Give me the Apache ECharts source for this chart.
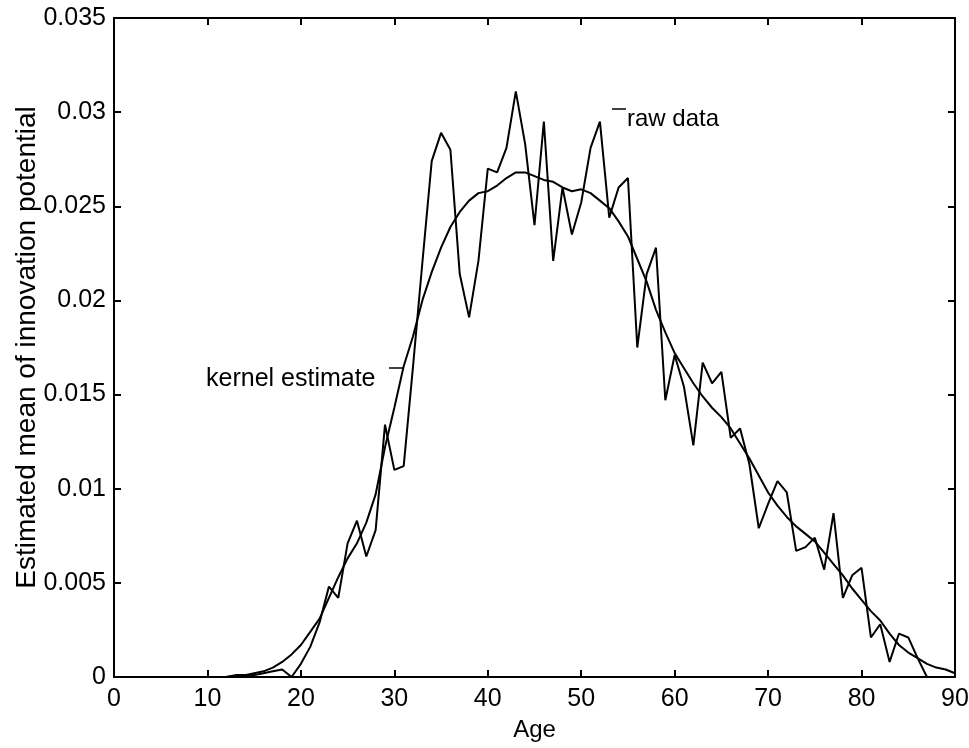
<!DOCTYPE html>
<html>
<head>
<meta charset="utf-8">
<title>Innovation potential by age</title>
<script src="https://cdn.jsdelivr.net/npm/echarts@6/dist/echarts.min.js"></script>
<style>
  html, body { margin: 0; padding: 0; background: #fff; }
</style>
</head>
<body>
<div id="main" style="width: 969px;height:748px;"></div>
<script type="text/javascript">
// ages of the raw observations
var rawAges = [12,13,14,15,16,17,18,19,20,21,22,23,24,25,26,27,28,29,30,31,32,33,34,35,36,37,38,39,40,
  41,42,43,44,45,46,47,48,49,50,51,52,53,54,55,56,57,58,59,60,61,62,63,64,65,66,67,68,69,70,
  71,72,73,74,75,76,77,78,79,80,81,82,83,84,85,86,87];
// raw data
var rawValues = [0,0.0001,0.0001,0.0001,0.0002,0.0003,0.0004,0,0.0007,0.0016,0.0029,0.0048,0.0042,0.0071,0.0083,0.0064,0.0078,0.0134,0.0110,0.0112,
  0.0165,0.0220,0.0274,0.0289,0.0280,0.0214,0.0191,0.0221,0.0270,0.0268,0.0281,0.0311,0.0283,0.0240,0.0295,0.0221,0.0260,0.0235,0.0252,0.0281,
  0.0295,0.0244,0.0260,0.0265,0.0175,0.0214,0.0228,0.0147,0.0171,0.0154,0.0123,0.0167,0.0156,0.0162,0.0127,0.0132,0.0113,0.0079,0.0092,0.0104,
  0.0098,0.0067,0.0069,0.0074,0.0057,0.0087,0.0042,0.0054,0.0058,0.0021,0.0028,0.0008,0.0023,0.0021,0.0010,0];
// kernel estimate, ages 12..90
var kernelAges = [12,13,14,15,16,17,18,19,20,21,22,23,24,25,26,27,28,29,30,31,32,33,34,35,36,37,38,39,40,
  41,42,43,44,45,46,47,48,49,50,51,52,53,54,55,56,57,58,59,60,61,62,63,64,65,66,67,68,69,70,
  71,72,73,74,75,76,77,78,79,80,81,82,83,84,85,86,87,88,89,90];
var kernelValues = [0,0.00005,0.0001,0.0002,0.0003,0.0005,0.0008,0.0012,0.0017,0.0024,0.0031,0.0042,0.0053,0.0063,0.0071,0.0082,0.0097,0.0122,0.0143,0.0165,
  0.0181,0.0200,0.0215,0.0228,0.0239,0.0247,0.0253,0.0257,0.0258,0.0261,0.0265,0.0268,0.0268,0.0266,0.0264,0.0263,0.0260,0.0258,0.0259,0.0257,
  0.0253,0.0249,0.0242,0.0234,0.0222,0.0210,0.0195,0.0183,0.0172,0.0164,0.0156,0.0149,0.0143,0.0138,0.0132,0.0124,0.0116,0.0107,0.0098,0.0091,
  0.0085,0.0080,0.0076,0.0072,0.0066,0.0060,0.0054,0.0047,0.0041,0.0035,0.0030,0.0023,0.0017,0.0013,0.0010,0.0007,0.0005,0.0004,0.0002];

var xTicks = [0, 10, 20, 30, 40, 50, 60, 70, 80, 90];
var yTicks = [0, 0.005, 0.01, 0.015, 0.02, 0.025, 0.03, 0.035];

function pairs(xs, ys) {
  return xs.map(function (x, i) { return [x, ys[i]]; });
}

var font = '"Liberation Sans", Arial, sans-serif';
var myChart = echarts.init(document.getElementById('main'));

var axisLine = { show: true, onZero: false, lineStyle: { color: '#000', width: 2 } };
var tickIn = { show: true, inside: true, length: 7, lineStyle: { color: '#000', width: 2 } };

var option = {
  backgroundColor: '#fff',
  animation: false,
  grid: { left: 114, right: 14, top: 18, bottom: 71, outerBoundsMode: 'none' },
  xAxis: [{
    type: 'value', min: xTicks[0], max: xTicks[xTicks.length - 1], interval: 10,
    name: 'Age', nameLocation: 'middle', nameGap: 41,
    nameTextStyle: { color: '#000', fontSize: 24, fontFamily: font },
    axisLine: axisLine, axisTick: tickIn, splitLine: { show: false },
    axisLabel: { color: '#000', fontSize: 25, fontFamily: font, margin: 10 }
  }, {
    type: 'value', position: 'top', min: 0, max: 90, interval: 10,
    axisLine: axisLine, axisTick: tickIn, splitLine: { show: false },
    axisLabel: { show: false }
  }],
  yAxis: [{
    type: 'value', min: yTicks[0], max: yTicks[yTicks.length - 1], interval: 0.005,
    name: 'Estimated mean of innovation potential', nameLocation: 'middle', nameGap: 73,
    nameMoveOverlap: false,
    nameTextStyle: { color: '#000', fontSize: 28, fontFamily: font },
    axisLine: axisLine, axisTick: tickIn, splitLine: { show: false },
    axisLabel: { color: '#000', fontSize: 25, fontFamily: font, margin: 8 }
  }, {
    type: 'value', position: 'right', min: 0, max: 0.035, interval: 0.005,
    axisLine: axisLine, axisTick: tickIn, splitLine: { show: false },
    axisLabel: { show: false }
  }],
  series: [{
    name: 'raw data', type: 'line', showSymbol: false,
    data: pairs(rawAges, rawValues),
    lineStyle: { color: '#000', width: 2 }
  }, {
    name: 'kernel estimate', type: 'line', showSymbol: false,
    data: pairs(kernelAges, kernelValues),
    lineStyle: { color: '#000', width: 2 }
  }],
  graphic: [
    { type: 'text', left: 627, top: 107, style: { text: 'raw data', fill: '#000', font: '24px ' + font } },
    { type: 'line', shape: { x1: 612, y1: 109, x2: 626, y2: 109 }, style: { stroke: '#000', lineWidth: 1.5 } },
    { type: 'text', left: 206, top: 367, style: { text: 'kernel estimate', fill: '#000', font: '25px ' + font } },
    { type: 'line', shape: { x1: 389, y1: 368, x2: 403, y2: 368 }, style: { stroke: '#000', lineWidth: 1.5 } }
  ]
};
myChart.setOption(option);
</script>
</body>
</html>
